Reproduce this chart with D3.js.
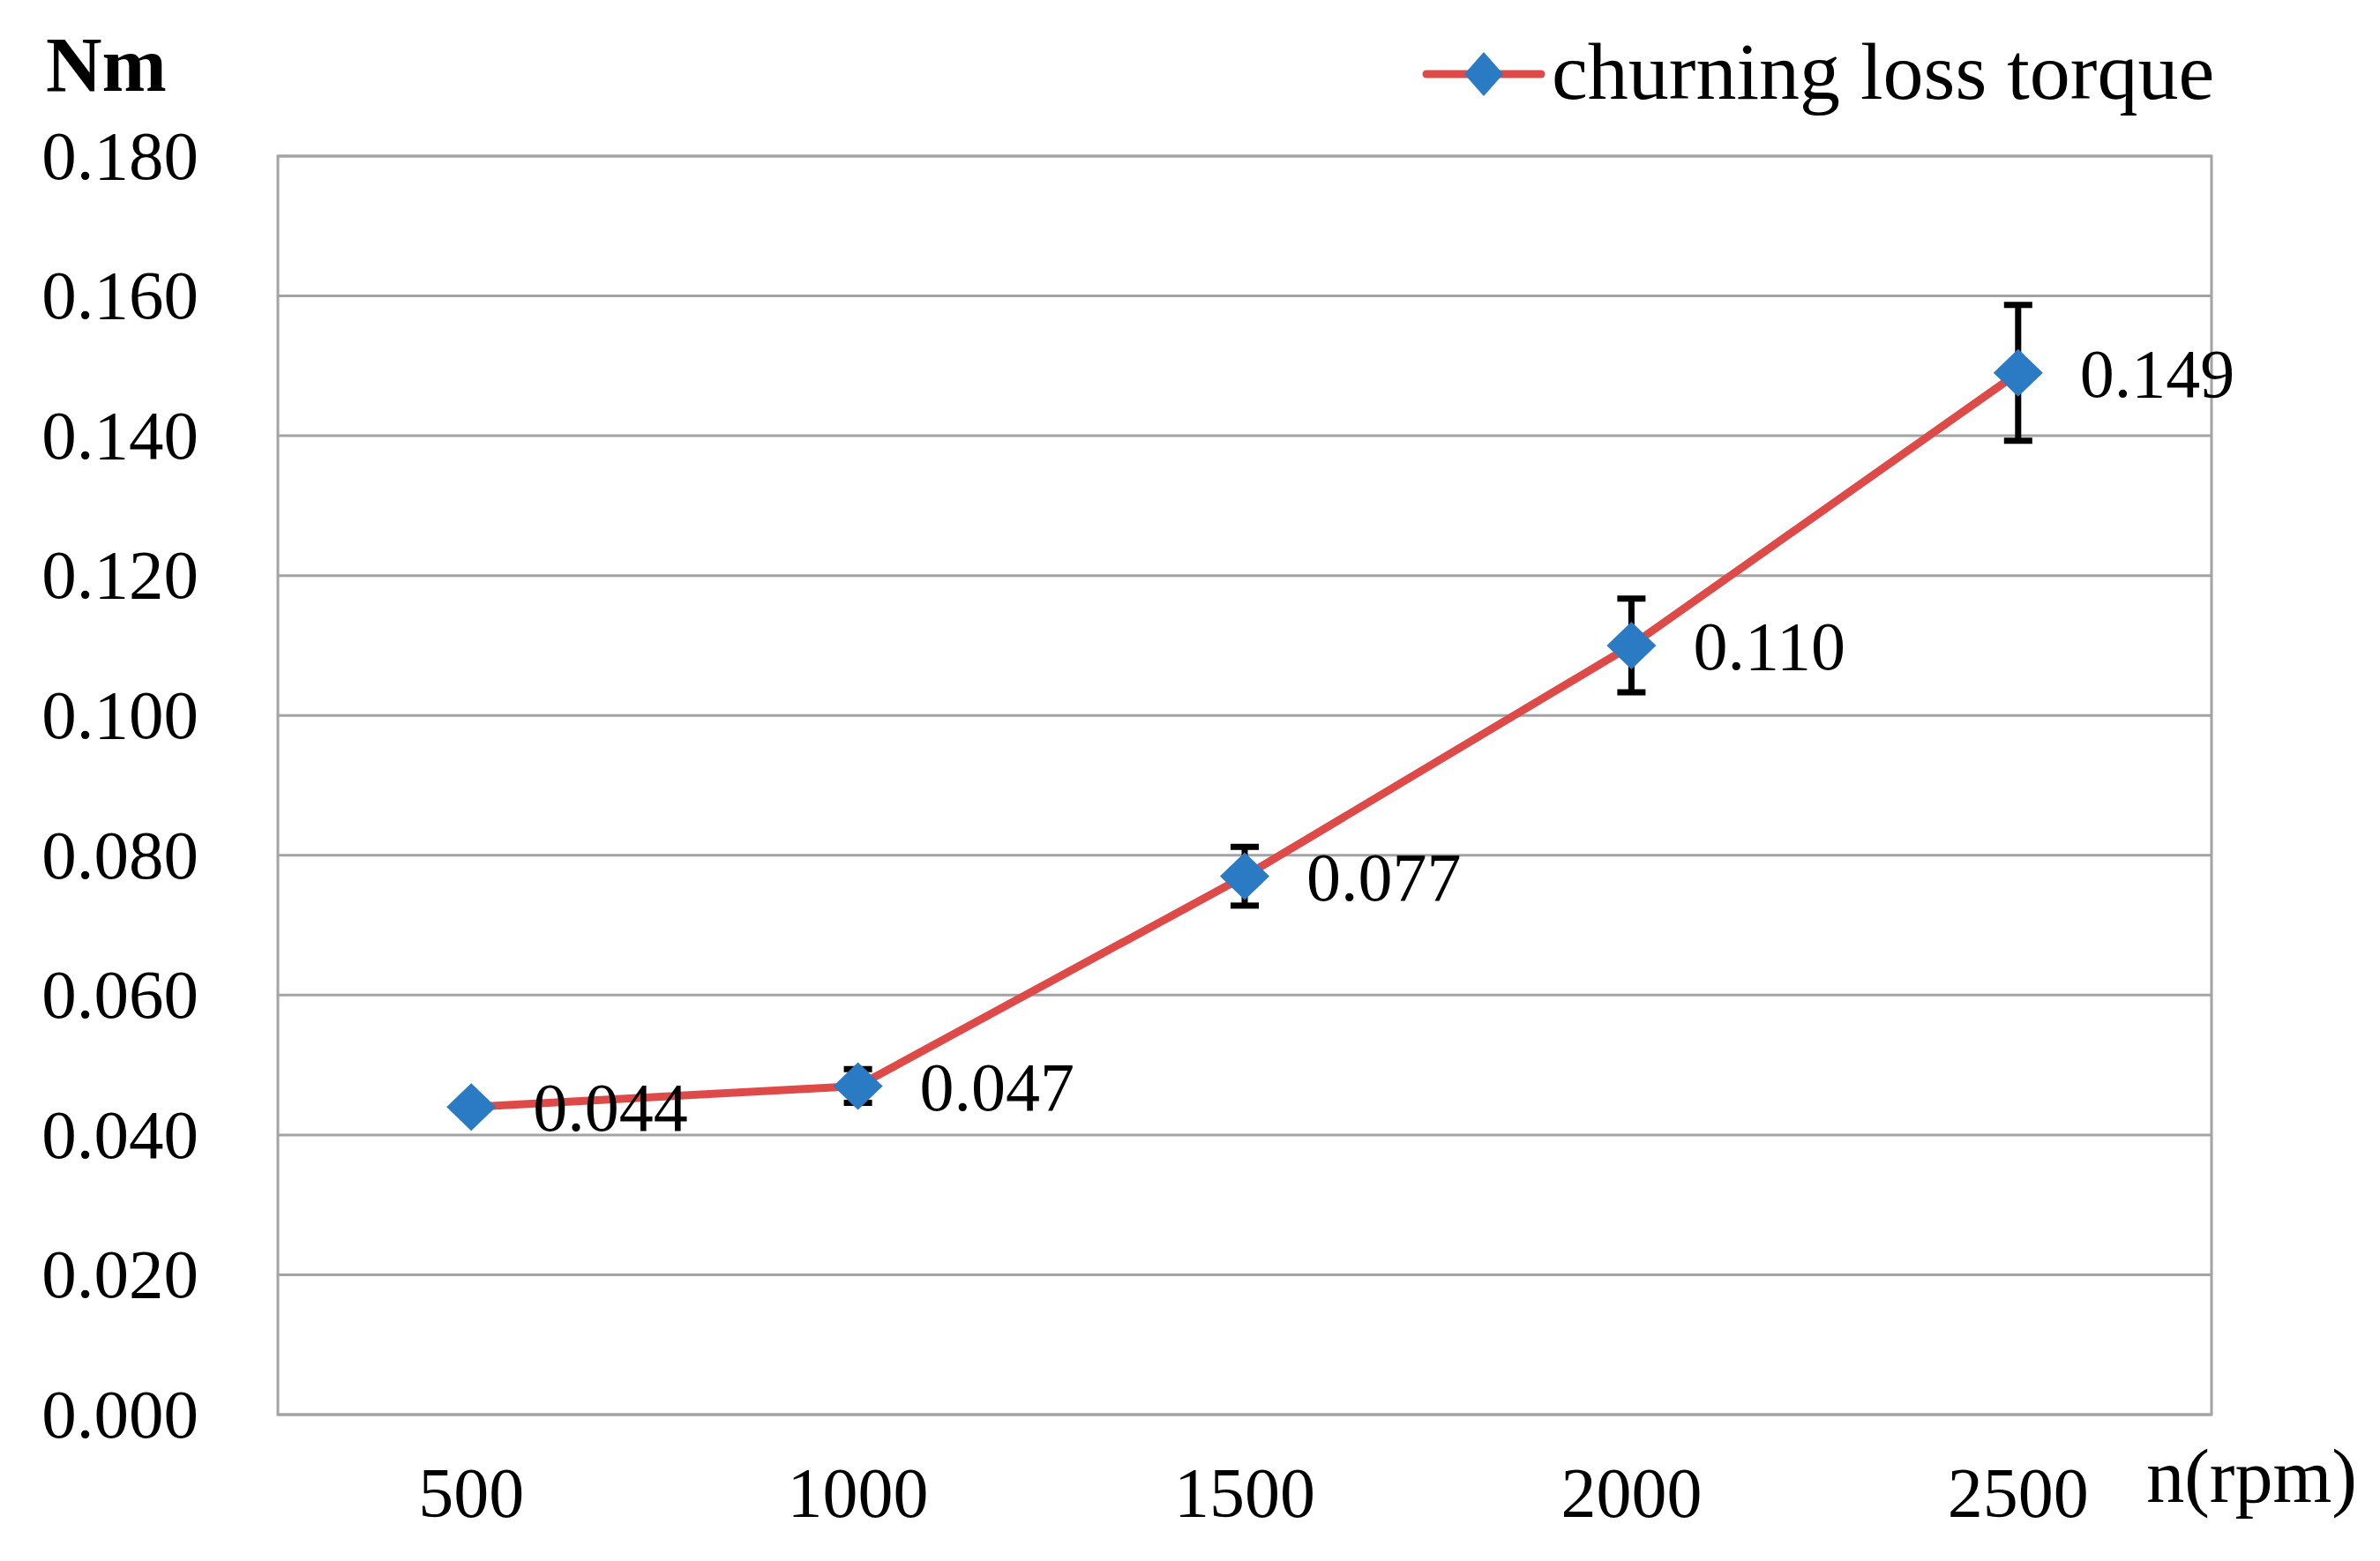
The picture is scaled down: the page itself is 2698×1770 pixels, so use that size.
<!DOCTYPE html>
<html>
<head>
<meta charset="utf-8">
<script src="https://cdn.jsdelivr.net/npm/d3@7"></script>
<style>
  html, body { margin: 0; padding: 0; background: #ffffff; }
  svg { display: block; }
  text { font-family: "Liberation Serif", "Times New Roman", serif; fill: #000; }
</style>
</head>
<body>
<script>
// ---- data ----
const categories = ["500", "1000", "1500", "2000", "2500"];
const torque = [0.044, 0.047, 0.077, 0.110, 0.149];
const errorAmount = [0.0, 0.0024, 0.0042, 0.0067, 0.0097];
const yTicks = [0, 0.02, 0.04, 0.06, 0.08, 0.10, 0.12, 0.14, 0.16, 0.18];
const seriesName = "churning loss torque";
const yUnit = "Nm";
const xUnit = "n(rpm)";

// ---- layout ----
const W = 2698, H = 1770;
const plot = { left: 315, top: 177, right: 2507, bottom: 1604 };
const red = "#DE4A48", blue = "#2A7BC3", grid = "#A3A3A3";

const svg = d3.select("body").append("svg").attr("width", W).attr("height", H);

const x = d3.scaleBand().domain(categories).range([plot.left, plot.right]);
const y = d3.scaleLinear().domain([0, 0.18]).range([plot.bottom, plot.top]);

// gridlines
svg.append("g").selectAll("line").data(yTicks).join("line")
  .attr("x1", plot.left).attr("x2", plot.right)
  .attr("y1", d => y(d)).attr("y2", d => y(d))
  .attr("stroke", grid).attr("stroke-width", 3);

// plot border
svg.append("rect")
  .attr("x", plot.left).attr("y", plot.top)
  .attr("width", plot.right - plot.left).attr("height", plot.bottom - plot.top)
  .attr("fill", "none").attr("stroke", grid).attr("stroke-width", 3);

// y axis
const yAxis = svg.append("g").attr("transform", `translate(${plot.left},0)`)
  .call(d3.axisLeft(y).tickValues(yTicks).tickFormat(d3.format(".3f")).tickSize(0).tickPadding(90));
yAxis.select(".domain").remove();
yAxis.selectAll("text").attr("font-size", 79).attr("font-family", "Liberation Serif").attr("fill", "#000");

// x axis
const xAxis = svg.append("g").attr("transform", `translate(0,${plot.bottom})`)
  .call(d3.axisBottom(x).tickSize(0).tickPadding(59));
xAxis.select(".domain").remove();
xAxis.selectAll("text").attr("font-size", 80).attr("font-family", "Liberation Serif").attr("fill", "#000");

const pts = torque.map((v, i) => ({ cat: categories[i], v, e: errorAmount[i] }));
const px = d => x(d.cat) + x.bandwidth() / 2;

// line
svg.append("path").datum(pts)
  .attr("d", d3.line().x(px).y(d => y(d.v)))
  .attr("fill", "none").attr("stroke", red).attr("stroke-width", 9).attr("stroke-linejoin", "round");

// error bars
const eb = svg.append("g").selectAll("g").data(pts.filter(d => d.e > 0)).join("g")
  .attr("stroke", "#000").attr("stroke-width", 7);
eb.append("line")
  .attr("x1", px).attr("x2", px)
  .attr("y1", d => y(d.v + d.e)).attr("y2", d => y(d.v - d.e));
eb.append("line")
  .attr("x1", d => px(d) - 16).attr("x2", d => px(d) + 16)
  .attr("y1", d => y(d.v + d.e)).attr("y2", d => y(d.v + d.e));
eb.append("line")
  .attr("x1", d => px(d) - 16).attr("x2", d => px(d) + 16)
  .attr("y1", d => y(d.v - d.e)).attr("y2", d => y(d.v - d.e));

// markers
const diamond = (hw, hh) => `M0,${-hh}L${hw},0L0,${hh}L${-hw},0Z`;
svg.append("g").selectAll("path").data(pts).join("path")
  .attr("transform", d => `translate(${px(d)},${y(d.v)})`)
  .attr("d", diamond(28, 27)).attr("fill", blue);

// data labels
svg.append("g").selectAll("text").data(pts).join("text")
  .attr("x", d => px(d) + 70)
  .attr("y", d => y(d.v)).attr("dy", "0.35em")
  .attr("font-size", 78)
  .text(d => d3.format(".3f")(d.v));

// unit labels
svg.append("text").attr("x", 52).attr("y", 103).attr("font-size", 88).attr("font-weight", "bold").text(yUnit);
svg.append("text").attr("x", 2672).attr("y", 1703).attr("text-anchor", "end").attr("font-size", 86).text(xUnit);

// legend
const lg = svg.append("g");
lg.append("line").attr("x1", 1617).attr("x2", 1747).attr("y1", 84).attr("y2", 84)
  .attr("stroke", red).attr("stroke-width", 9).attr("stroke-linecap", "round");
lg.append("path").attr("transform", "translate(1682,84)").attr("d", diamond(22, 25)).attr("fill", blue);
lg.append("text").attr("x", 1759).attr("y", 112).attr("font-size", 92).text(seriesName);
</script>
</body>
</html>
